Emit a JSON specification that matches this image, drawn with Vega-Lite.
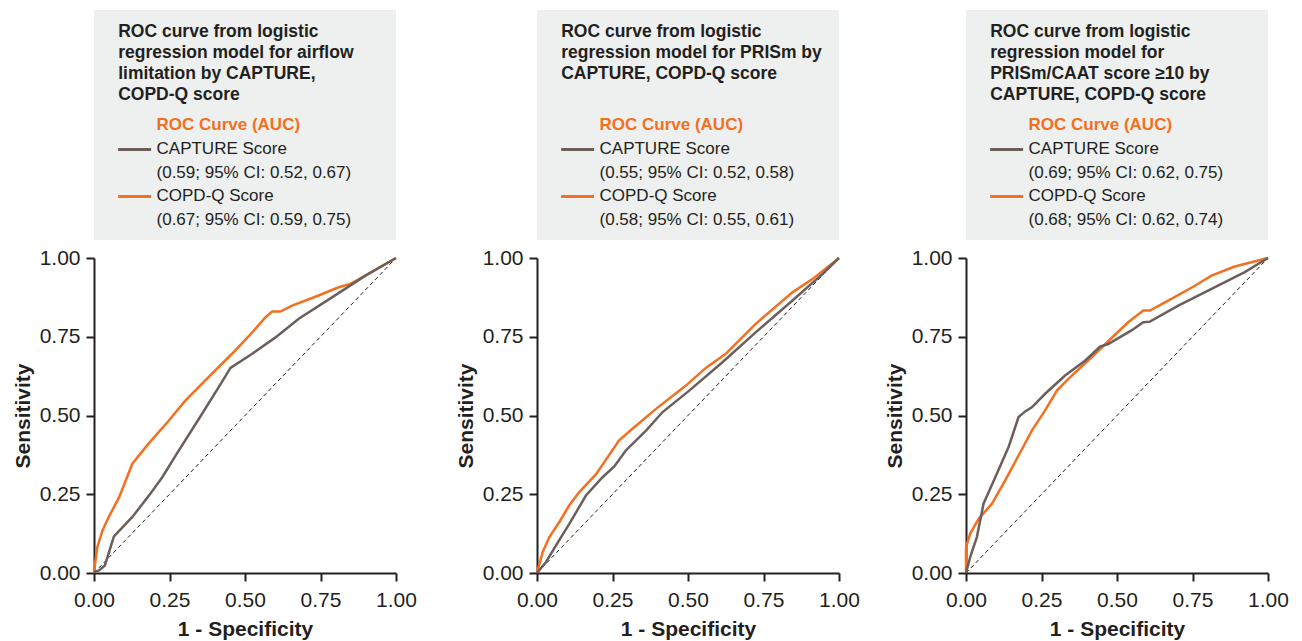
{
  "$schema": "https://vega.github.io/schema/vega-lite/v6.json",
  "padding": {"left": 12, "top": 10, "right": 5, "bottom": 2},
  "background": "white",
  "config": {
    "font": "Liberation Sans",
    "view": {"stroke": null},
    "axis": {
      "grid": false,
      "domainColor": "#231F20", "domainWidth": 2,
      "tickColor": "#231F20", "tickWidth": 2, "tickSize": 8,
      "labelFont": "Liberation Sans", "labelFontSize": 21, "labelColor": "#231F20", "labelPadding": 6,
      "titleFont": "Liberation Sans", "titleFontSize": 21, "titleFontWeight": "bold", "titleColor": "#231F20", "titlePadding": 6,
      "labelFlush": false
    },
    "axisX": {"labelPadding": 8, "titlePadding": 8}
  },
  "datasets": {
    "diag": [{"fpr": 0, "tpr": 0}, {"fpr": 1, "tpr": 1}],
    "titles": [
      {"panel": 1, "title": ["ROC curve from logistic", "regression model for airflow", "limitation by CAPTURE,", "COPD-Q score"], "header": "ROC Curve (AUC)"},
      {"panel": 2, "title": ["ROC curve from logistic", "regression model for PRISm by", "CAPTURE, COPD-Q score"], "header": "ROC Curve (AUC)"},
      {"panel": 3, "title": ["ROC curve from logistic", "regression model for", "PRISm/CAAT score ≥10 by", "CAPTURE, COPD-Q score"], "header": "ROC Curve (AUC)"}
    ],
    "legend": [
      {"panel": 1, "order": 1, "series": "CAPTURE Score", "ci": "(0.59; 95% CI: 0.52, 0.67)"},
      {"panel": 1, "order": 2, "series": "COPD-Q Score", "ci": "(0.67; 95% CI: 0.59, 0.75)"},
      {"panel": 2, "order": 1, "series": "CAPTURE Score", "ci": "(0.55; 95% CI: 0.52, 0.58)"},
      {"panel": 2, "order": 2, "series": "COPD-Q Score", "ci": "(0.58; 95% CI: 0.55, 0.61)"},
      {"panel": 3, "order": 1, "series": "CAPTURE Score", "ci": "(0.69; 95% CI: 0.62, 0.75)"},
      {"panel": 3, "order": 2, "series": "COPD-Q Score", "ci": "(0.68; 95% CI: 0.62, 0.74)"}
    ],
    "roc": [
      {"panel": 1, "series": "COPD-Q Score", "fpr": 0, "tpr": 0},
      {"panel": 1, "series": "COPD-Q Score", "fpr": 0.003, "tpr": 0.025},
      {"panel": 1, "series": "COPD-Q Score", "fpr": 0.011, "tpr": 0.082},
      {"panel": 1, "series": "COPD-Q Score", "fpr": 0.028, "tpr": 0.135},
      {"panel": 1, "series": "COPD-Q Score", "fpr": 0.05, "tpr": 0.18},
      {"panel": 1, "series": "COPD-Q Score", "fpr": 0.083, "tpr": 0.24},
      {"panel": 1, "series": "COPD-Q Score", "fpr": 0.127, "tpr": 0.347},
      {"panel": 1, "series": "COPD-Q Score", "fpr": 0.18, "tpr": 0.41},
      {"panel": 1, "series": "COPD-Q Score", "fpr": 0.248, "tpr": 0.484},
      {"panel": 1, "series": "COPD-Q Score", "fpr": 0.303, "tpr": 0.548},
      {"panel": 1, "series": "COPD-Q Score", "fpr": 0.39, "tpr": 0.632},
      {"panel": 1, "series": "COPD-Q Score", "fpr": 0.457, "tpr": 0.696},
      {"panel": 1, "series": "COPD-Q Score", "fpr": 0.524, "tpr": 0.764},
      {"panel": 1, "series": "COPD-Q Score", "fpr": 0.568, "tpr": 0.812},
      {"panel": 1, "series": "COPD-Q Score", "fpr": 0.59, "tpr": 0.83},
      {"panel": 1, "series": "COPD-Q Score", "fpr": 0.617, "tpr": 0.83},
      {"panel": 1, "series": "COPD-Q Score", "fpr": 0.656, "tpr": 0.849},
      {"panel": 1, "series": "COPD-Q Score", "fpr": 0.744, "tpr": 0.881},
      {"panel": 1, "series": "COPD-Q Score", "fpr": 0.81, "tpr": 0.907},
      {"panel": 1, "series": "COPD-Q Score", "fpr": 0.849, "tpr": 0.918},
      {"panel": 1, "series": "COPD-Q Score", "fpr": 0.888, "tpr": 0.939},
      {"panel": 1, "series": "COPD-Q Score", "fpr": 1, "tpr": 1},
      {"panel": 1, "series": "CAPTURE Score", "fpr": 0, "tpr": 0.003},
      {"panel": 1, "series": "CAPTURE Score", "fpr": 0.017, "tpr": 0.008},
      {"panel": 1, "series": "CAPTURE Score", "fpr": 0.036, "tpr": 0.024},
      {"panel": 1, "series": "CAPTURE Score", "fpr": 0.066, "tpr": 0.116},
      {"panel": 1, "series": "CAPTURE Score", "fpr": 0.127, "tpr": 0.178},
      {"panel": 1, "series": "CAPTURE Score", "fpr": 0.187, "tpr": 0.252},
      {"panel": 1, "series": "CAPTURE Score", "fpr": 0.226, "tpr": 0.304},
      {"panel": 1, "series": "CAPTURE Score", "fpr": 0.281, "tpr": 0.389},
      {"panel": 1, "series": "CAPTURE Score", "fpr": 0.347, "tpr": 0.489},
      {"panel": 1, "series": "CAPTURE Score", "fpr": 0.413, "tpr": 0.59},
      {"panel": 1, "series": "CAPTURE Score", "fpr": 0.452, "tpr": 0.651},
      {"panel": 1, "series": "CAPTURE Score", "fpr": 0.524, "tpr": 0.696},
      {"panel": 1, "series": "CAPTURE Score", "fpr": 0.601, "tpr": 0.748},
      {"panel": 1, "series": "CAPTURE Score", "fpr": 0.678, "tpr": 0.807},
      {"panel": 1, "series": "CAPTURE Score", "fpr": 0.788, "tpr": 0.875},
      {"panel": 1, "series": "CAPTURE Score", "fpr": 0.899, "tpr": 0.944},
      {"panel": 1, "series": "CAPTURE Score", "fpr": 1, "tpr": 1},
      {"panel": 2, "series": "COPD-Q Score", "fpr": 0, "tpr": 0},
      {"panel": 2, "series": "COPD-Q Score", "fpr": 0.019, "tpr": 0.067},
      {"panel": 2, "series": "COPD-Q Score", "fpr": 0.041, "tpr": 0.114},
      {"panel": 2, "series": "COPD-Q Score", "fpr": 0.074, "tpr": 0.162},
      {"panel": 2, "series": "COPD-Q Score", "fpr": 0.107, "tpr": 0.215},
      {"panel": 2, "series": "COPD-Q Score", "fpr": 0.14, "tpr": 0.257},
      {"panel": 2, "series": "COPD-Q Score", "fpr": 0.195, "tpr": 0.313},
      {"panel": 2, "series": "COPD-Q Score", "fpr": 0.272, "tpr": 0.421},
      {"panel": 2, "series": "COPD-Q Score", "fpr": 0.316, "tpr": 0.458},
      {"panel": 2, "series": "COPD-Q Score", "fpr": 0.394, "tpr": 0.521},
      {"panel": 2, "series": "COPD-Q Score", "fpr": 0.493, "tpr": 0.595},
      {"panel": 2, "series": "COPD-Q Score", "fpr": 0.559, "tpr": 0.651},
      {"panel": 2, "series": "COPD-Q Score", "fpr": 0.625, "tpr": 0.696},
      {"panel": 2, "series": "COPD-Q Score", "fpr": 0.724, "tpr": 0.791},
      {"panel": 2, "series": "COPD-Q Score", "fpr": 0.846, "tpr": 0.891},
      {"panel": 2, "series": "COPD-Q Score", "fpr": 0.912, "tpr": 0.933},
      {"panel": 2, "series": "COPD-Q Score", "fpr": 1, "tpr": 1},
      {"panel": 2, "series": "CAPTURE Score", "fpr": 0, "tpr": 0},
      {"panel": 2, "series": "CAPTURE Score", "fpr": 0.03, "tpr": 0.035},
      {"panel": 2, "series": "CAPTURE Score", "fpr": 0.063, "tpr": 0.088},
      {"panel": 2, "series": "CAPTURE Score", "fpr": 0.107, "tpr": 0.156},
      {"panel": 2, "series": "CAPTURE Score", "fpr": 0.162, "tpr": 0.246},
      {"panel": 2, "series": "CAPTURE Score", "fpr": 0.217, "tpr": 0.304},
      {"panel": 2, "series": "CAPTURE Score", "fpr": 0.256, "tpr": 0.338},
      {"panel": 2, "series": "CAPTURE Score", "fpr": 0.294, "tpr": 0.389},
      {"panel": 2, "series": "CAPTURE Score", "fpr": 0.361, "tpr": 0.452},
      {"panel": 2, "series": "CAPTURE Score", "fpr": 0.416, "tpr": 0.511},
      {"panel": 2, "series": "CAPTURE Score", "fpr": 0.504, "tpr": 0.579},
      {"panel": 2, "series": "CAPTURE Score", "fpr": 0.614, "tpr": 0.669},
      {"panel": 2, "series": "CAPTURE Score", "fpr": 0.724, "tpr": 0.764},
      {"panel": 2, "series": "CAPTURE Score", "fpr": 0.846, "tpr": 0.865},
      {"panel": 2, "series": "CAPTURE Score", "fpr": 0.945, "tpr": 0.949},
      {"panel": 2, "series": "CAPTURE Score", "fpr": 1, "tpr": 1},
      {"panel": 3, "series": "COPD-Q Score", "fpr": 0, "tpr": 0},
      {"panel": 3, "series": "COPD-Q Score", "fpr": 0, "tpr": 0.082},
      {"panel": 3, "series": "COPD-Q Score", "fpr": 0.014, "tpr": 0.125},
      {"panel": 3, "series": "COPD-Q Score", "fpr": 0.042, "tpr": 0.172},
      {"panel": 3, "series": "COPD-Q Score", "fpr": 0.086, "tpr": 0.22},
      {"panel": 3, "series": "COPD-Q Score", "fpr": 0.13, "tpr": 0.294},
      {"panel": 3, "series": "COPD-Q Score", "fpr": 0.174, "tpr": 0.373},
      {"panel": 3, "series": "COPD-Q Score", "fpr": 0.218, "tpr": 0.452},
      {"panel": 3, "series": "COPD-Q Score", "fpr": 0.262, "tpr": 0.516},
      {"panel": 3, "series": "COPD-Q Score", "fpr": 0.301, "tpr": 0.579},
      {"panel": 3, "series": "COPD-Q Score", "fpr": 0.339, "tpr": 0.616},
      {"panel": 3, "series": "COPD-Q Score", "fpr": 0.416, "tpr": 0.685},
      {"panel": 3, "series": "COPD-Q Score", "fpr": 0.482, "tpr": 0.746},
      {"panel": 3, "series": "COPD-Q Score", "fpr": 0.537, "tpr": 0.796},
      {"panel": 3, "series": "COPD-Q Score", "fpr": 0.587, "tpr": 0.833},
      {"panel": 3, "series": "COPD-Q Score", "fpr": 0.609, "tpr": 0.833},
      {"panel": 3, "series": "COPD-Q Score", "fpr": 0.659, "tpr": 0.859},
      {"panel": 3, "series": "COPD-Q Score", "fpr": 0.758, "tpr": 0.912},
      {"panel": 3, "series": "COPD-Q Score", "fpr": 0.813, "tpr": 0.944},
      {"panel": 3, "series": "COPD-Q Score", "fpr": 0.89, "tpr": 0.973},
      {"panel": 3, "series": "COPD-Q Score", "fpr": 1, "tpr": 1},
      {"panel": 3, "series": "CAPTURE Score", "fpr": 0, "tpr": 0},
      {"panel": 3, "series": "CAPTURE Score", "fpr": 0.014, "tpr": 0.051},
      {"panel": 3, "series": "CAPTURE Score", "fpr": 0.036, "tpr": 0.114},
      {"panel": 3, "series": "CAPTURE Score", "fpr": 0.058, "tpr": 0.22},
      {"panel": 3, "series": "CAPTURE Score", "fpr": 0.097, "tpr": 0.304},
      {"panel": 3, "series": "CAPTURE Score", "fpr": 0.141, "tpr": 0.4},
      {"panel": 3, "series": "CAPTURE Score", "fpr": 0.174, "tpr": 0.495},
      {"panel": 3, "series": "CAPTURE Score", "fpr": 0.196, "tpr": 0.513},
      {"panel": 3, "series": "CAPTURE Score", "fpr": 0.218, "tpr": 0.526},
      {"panel": 3, "series": "CAPTURE Score", "fpr": 0.262, "tpr": 0.569},
      {"panel": 3, "series": "CAPTURE Score", "fpr": 0.328, "tpr": 0.627},
      {"panel": 3, "series": "CAPTURE Score", "fpr": 0.394, "tpr": 0.674},
      {"panel": 3, "series": "CAPTURE Score", "fpr": 0.444, "tpr": 0.719},
      {"panel": 3, "series": "CAPTURE Score", "fpr": 0.471, "tpr": 0.727},
      {"panel": 3, "series": "CAPTURE Score", "fpr": 0.548, "tpr": 0.77},
      {"panel": 3, "series": "CAPTURE Score", "fpr": 0.587, "tpr": 0.796},
      {"panel": 3, "series": "CAPTURE Score", "fpr": 0.609, "tpr": 0.798},
      {"panel": 3, "series": "CAPTURE Score", "fpr": 0.703, "tpr": 0.849},
      {"panel": 3, "series": "CAPTURE Score", "fpr": 0.813, "tpr": 0.902},
      {"panel": 3, "series": "CAPTURE Score", "fpr": 0.923, "tpr": 0.955},
      {"panel": 3, "series": "CAPTURE Score", "fpr": 1, "tpr": 1}
    ]
  },
  "spacing": 38,
  "hconcat": [
    {
      "spacing": 7,
      "vconcat": [
        {
          "width": 302, "height": 230,
          "view": {"fill": "#EDF0EE", "stroke": null},
          "layer": [
            {"data": {"name": "titles"}, "transform": [{"filter": "datum.panel == 1"}],
             "mark": {"type": "text", "align": "left", "baseline": "alphabetic", "fontWeight": "bold", "fontSize": 17.5, "lineHeight": 21, "color": "#231F20"},
             "encoding": {"x": {"datum": 0.08, "type": "quantitative", "scale": {"domain": [0, 1], "nice": false, "zero": false}, "axis": null}, "y": {"datum": -1.404, "type": "quantitative", "scale": {"domain": [-1.968, 2.926], "reverse": true, "nice": false, "zero": false}, "axis": null}, "text": {"field": "title", "type": "nominal"}}},
            {"data": {"name": "titles"}, "transform": [{"filter": "datum.panel == 1"}],
             "mark": {"type": "text", "align": "left", "baseline": "middle", "fontWeight": "bold", "fontSize": 17, "color": "#F37021"},
             "encoding": {"x": {"datum": 0.207, "type": "quantitative"}, "y": {"datum": 0.489, "type": "quantitative"}, "text": {"field": "header", "type": "nominal"}}},
            {"data": {"name": "legend"}, "transform": [{"filter": "datum.panel == 1"}],
             "mark": {"type": "rule", "strokeWidth": 3},
             "encoding": {"x": {"datum": 0.08, "type": "quantitative"}, "x2": {"datum": 0.189}, "y": {"field": "order", "type": "quantitative"}, "color": {"field": "series", "type": "nominal", "scale": {"domain": ["CAPTURE Score", "COPD-Q Score"], "range": ["#6B5F5B", "#F37021"]}, "legend": null}}},
            {"data": {"name": "legend"}, "transform": [{"filter": "datum.panel == 1"}],
             "mark": {"type": "text", "align": "left", "baseline": "middle", "fontSize": 17, "color": "#231F20"},
             "encoding": {"x": {"datum": 0.207, "type": "quantitative"}, "y": {"field": "order", "type": "quantitative"}, "text": {"field": "series", "type": "nominal"}}},
            {"data": {"name": "legend"}, "transform": [{"filter": "datum.panel == 1"}],
             "mark": {"type": "text", "align": "left", "baseline": "middle", "fontSize": 17, "dy": 24, "color": "#231F20"},
             "encoding": {"x": {"datum": 0.207, "type": "quantitative"}, "y": {"field": "order", "type": "quantitative"}, "text": {"field": "ci", "type": "nominal"}}}
          ]
        },
        {
          "width": 302, "height": 315,
          "layer": [
            {"data": {"name": "diag"},
             "mark": {"type": "line", "strokeDash": [4, 3], "strokeWidth": 1, "color": "#231F20"},
             "encoding": {"x": {"field": "fpr", "type": "quantitative", "scale": {"domain": [0, 1]}, "axis": {"values": [0, 0.25, 0.5, 0.75, 1], "format": ".2f", "title": "1 - Specificity"}}, "y": {"field": "tpr", "type": "quantitative", "scale": {"domain": [0, 1]}, "axis": {"values": [0, 0.25, 0.5, 0.75, 1], "format": ".2f", "title": "Sensitivity"}}}},
            {"data": {"name": "roc"}, "transform": [{"filter": "datum.panel == 1"}],
             "mark": {"type": "line", "strokeWidth": 2.5},
             "encoding": {"x": {"field": "fpr", "type": "quantitative"}, "y": {"field": "tpr", "type": "quantitative"}, "color": {"field": "series", "type": "nominal", "scale": {"domain": ["CAPTURE Score", "COPD-Q Score"], "range": ["#6B5F5B", "#F37021"]}, "legend": null}}}
          ]
        }
      ]
    },
    {
      "spacing": 24,
      "hconcat": [
        {
          "spacing": 7,
          "vconcat": [
            {
              "width": 302, "height": 230,
              "view": {"fill": "#EDF0EE", "stroke": null},
              "layer": [
                {"data": {"name": "titles"}, "transform": [{"filter": "datum.panel == 2"}],
                 "mark": {"type": "text", "align": "left", "baseline": "alphabetic", "fontWeight": "bold", "fontSize": 17.5, "lineHeight": 21, "color": "#231F20"},
                 "encoding": {"x": {"datum": 0.08, "type": "quantitative", "scale": {"domain": [0, 1], "nice": false, "zero": false}, "axis": null}, "y": {"datum": -1.404, "type": "quantitative", "scale": {"domain": [-1.968, 2.926], "reverse": true, "nice": false, "zero": false}, "axis": null}, "text": {"field": "title", "type": "nominal"}}},
                {"data": {"name": "titles"}, "transform": [{"filter": "datum.panel == 2"}],
                 "mark": {"type": "text", "align": "left", "baseline": "middle", "fontWeight": "bold", "fontSize": 17, "color": "#F37021"},
                 "encoding": {"x": {"datum": 0.207, "type": "quantitative"}, "y": {"datum": 0.489, "type": "quantitative"}, "text": {"field": "header", "type": "nominal"}}},
                {"data": {"name": "legend"}, "transform": [{"filter": "datum.panel == 2"}],
                 "mark": {"type": "rule", "strokeWidth": 3},
                 "encoding": {"x": {"datum": 0.08, "type": "quantitative"}, "x2": {"datum": 0.189}, "y": {"field": "order", "type": "quantitative"}, "color": {"field": "series", "type": "nominal", "scale": {"domain": ["CAPTURE Score", "COPD-Q Score"], "range": ["#6B5F5B", "#F37021"]}, "legend": null}}},
                {"data": {"name": "legend"}, "transform": [{"filter": "datum.panel == 2"}],
                 "mark": {"type": "text", "align": "left", "baseline": "middle", "fontSize": 17, "color": "#231F20"},
                 "encoding": {"x": {"datum": 0.207, "type": "quantitative"}, "y": {"field": "order", "type": "quantitative"}, "text": {"field": "series", "type": "nominal"}}},
                {"data": {"name": "legend"}, "transform": [{"filter": "datum.panel == 2"}],
                 "mark": {"type": "text", "align": "left", "baseline": "middle", "fontSize": 17, "dy": 24, "color": "#231F20"},
                 "encoding": {"x": {"datum": 0.207, "type": "quantitative"}, "y": {"field": "order", "type": "quantitative"}, "text": {"field": "ci", "type": "nominal"}}}
              ]
            },
            {
              "width": 302, "height": 315,
              "layer": [
                {"data": {"name": "diag"},
                 "mark": {"type": "line", "strokeDash": [4, 3], "strokeWidth": 1, "color": "#231F20"},
                 "encoding": {"x": {"field": "fpr", "type": "quantitative", "scale": {"domain": [0, 1]}, "axis": {"values": [0, 0.25, 0.5, 0.75, 1], "format": ".2f", "title": "1 - Specificity"}}, "y": {"field": "tpr", "type": "quantitative", "scale": {"domain": [0, 1]}, "axis": {"values": [0, 0.25, 0.5, 0.75, 1], "format": ".2f", "title": "Sensitivity"}}}},
                {"data": {"name": "roc"}, "transform": [{"filter": "datum.panel == 2"}],
                 "mark": {"type": "line", "strokeWidth": 2.5},
                 "encoding": {"x": {"field": "fpr", "type": "quantitative"}, "y": {"field": "tpr", "type": "quantitative"}, "color": {"field": "series", "type": "nominal", "scale": {"domain": ["CAPTURE Score", "COPD-Q Score"], "range": ["#6B5F5B", "#F37021"]}, "legend": null}}}
              ]
            }
          ]
        },
        {
          "spacing": 7,
          "vconcat": [
            {
              "width": 302, "height": 230,
              "view": {"fill": "#EDF0EE", "stroke": null},
              "layer": [
                {"data": {"name": "titles"}, "transform": [{"filter": "datum.panel == 3"}],
                 "mark": {"type": "text", "align": "left", "baseline": "alphabetic", "fontWeight": "bold", "fontSize": 17.5, "lineHeight": 21, "color": "#231F20"},
                 "encoding": {"x": {"datum": 0.08, "type": "quantitative", "scale": {"domain": [0, 1], "nice": false, "zero": false}, "axis": null}, "y": {"datum": -1.404, "type": "quantitative", "scale": {"domain": [-1.968, 2.926], "reverse": true, "nice": false, "zero": false}, "axis": null}, "text": {"field": "title", "type": "nominal"}}},
                {"data": {"name": "titles"}, "transform": [{"filter": "datum.panel == 3"}],
                 "mark": {"type": "text", "align": "left", "baseline": "middle", "fontWeight": "bold", "fontSize": 17, "color": "#F37021"},
                 "encoding": {"x": {"datum": 0.207, "type": "quantitative"}, "y": {"datum": 0.489, "type": "quantitative"}, "text": {"field": "header", "type": "nominal"}}},
                {"data": {"name": "legend"}, "transform": [{"filter": "datum.panel == 3"}],
                 "mark": {"type": "rule", "strokeWidth": 3},
                 "encoding": {"x": {"datum": 0.08, "type": "quantitative"}, "x2": {"datum": 0.189}, "y": {"field": "order", "type": "quantitative"}, "color": {"field": "series", "type": "nominal", "scale": {"domain": ["CAPTURE Score", "COPD-Q Score"], "range": ["#6B5F5B", "#F37021"]}, "legend": null}}},
                {"data": {"name": "legend"}, "transform": [{"filter": "datum.panel == 3"}],
                 "mark": {"type": "text", "align": "left", "baseline": "middle", "fontSize": 17, "color": "#231F20"},
                 "encoding": {"x": {"datum": 0.207, "type": "quantitative"}, "y": {"field": "order", "type": "quantitative"}, "text": {"field": "series", "type": "nominal"}}},
                {"data": {"name": "legend"}, "transform": [{"filter": "datum.panel == 3"}],
                 "mark": {"type": "text", "align": "left", "baseline": "middle", "fontSize": 17, "dy": 24, "color": "#231F20"},
                 "encoding": {"x": {"datum": 0.207, "type": "quantitative"}, "y": {"field": "order", "type": "quantitative"}, "text": {"field": "ci", "type": "nominal"}}}
              ]
            },
            {
              "width": 302, "height": 315,
              "layer": [
                {"data": {"name": "diag"},
                 "mark": {"type": "line", "strokeDash": [4, 3], "strokeWidth": 1, "color": "#231F20"},
                 "encoding": {"x": {"field": "fpr", "type": "quantitative", "scale": {"domain": [0, 1]}, "axis": {"values": [0, 0.25, 0.5, 0.75, 1], "format": ".2f", "title": "1 - Specificity"}}, "y": {"field": "tpr", "type": "quantitative", "scale": {"domain": [0, 1]}, "axis": {"values": [0, 0.25, 0.5, 0.75, 1], "format": ".2f", "title": "Sensitivity"}}}},
                {"data": {"name": "roc"}, "transform": [{"filter": "datum.panel == 3"}],
                 "mark": {"type": "line", "strokeWidth": 2.5},
                 "encoding": {"x": {"field": "fpr", "type": "quantitative"}, "y": {"field": "tpr", "type": "quantitative"}, "color": {"field": "series", "type": "nominal", "scale": {"domain": ["CAPTURE Score", "COPD-Q Score"], "range": ["#6B5F5B", "#F37021"]}, "legend": null}}}
              ]
            }
          ]
        }
      ]
    }
  ]
}
